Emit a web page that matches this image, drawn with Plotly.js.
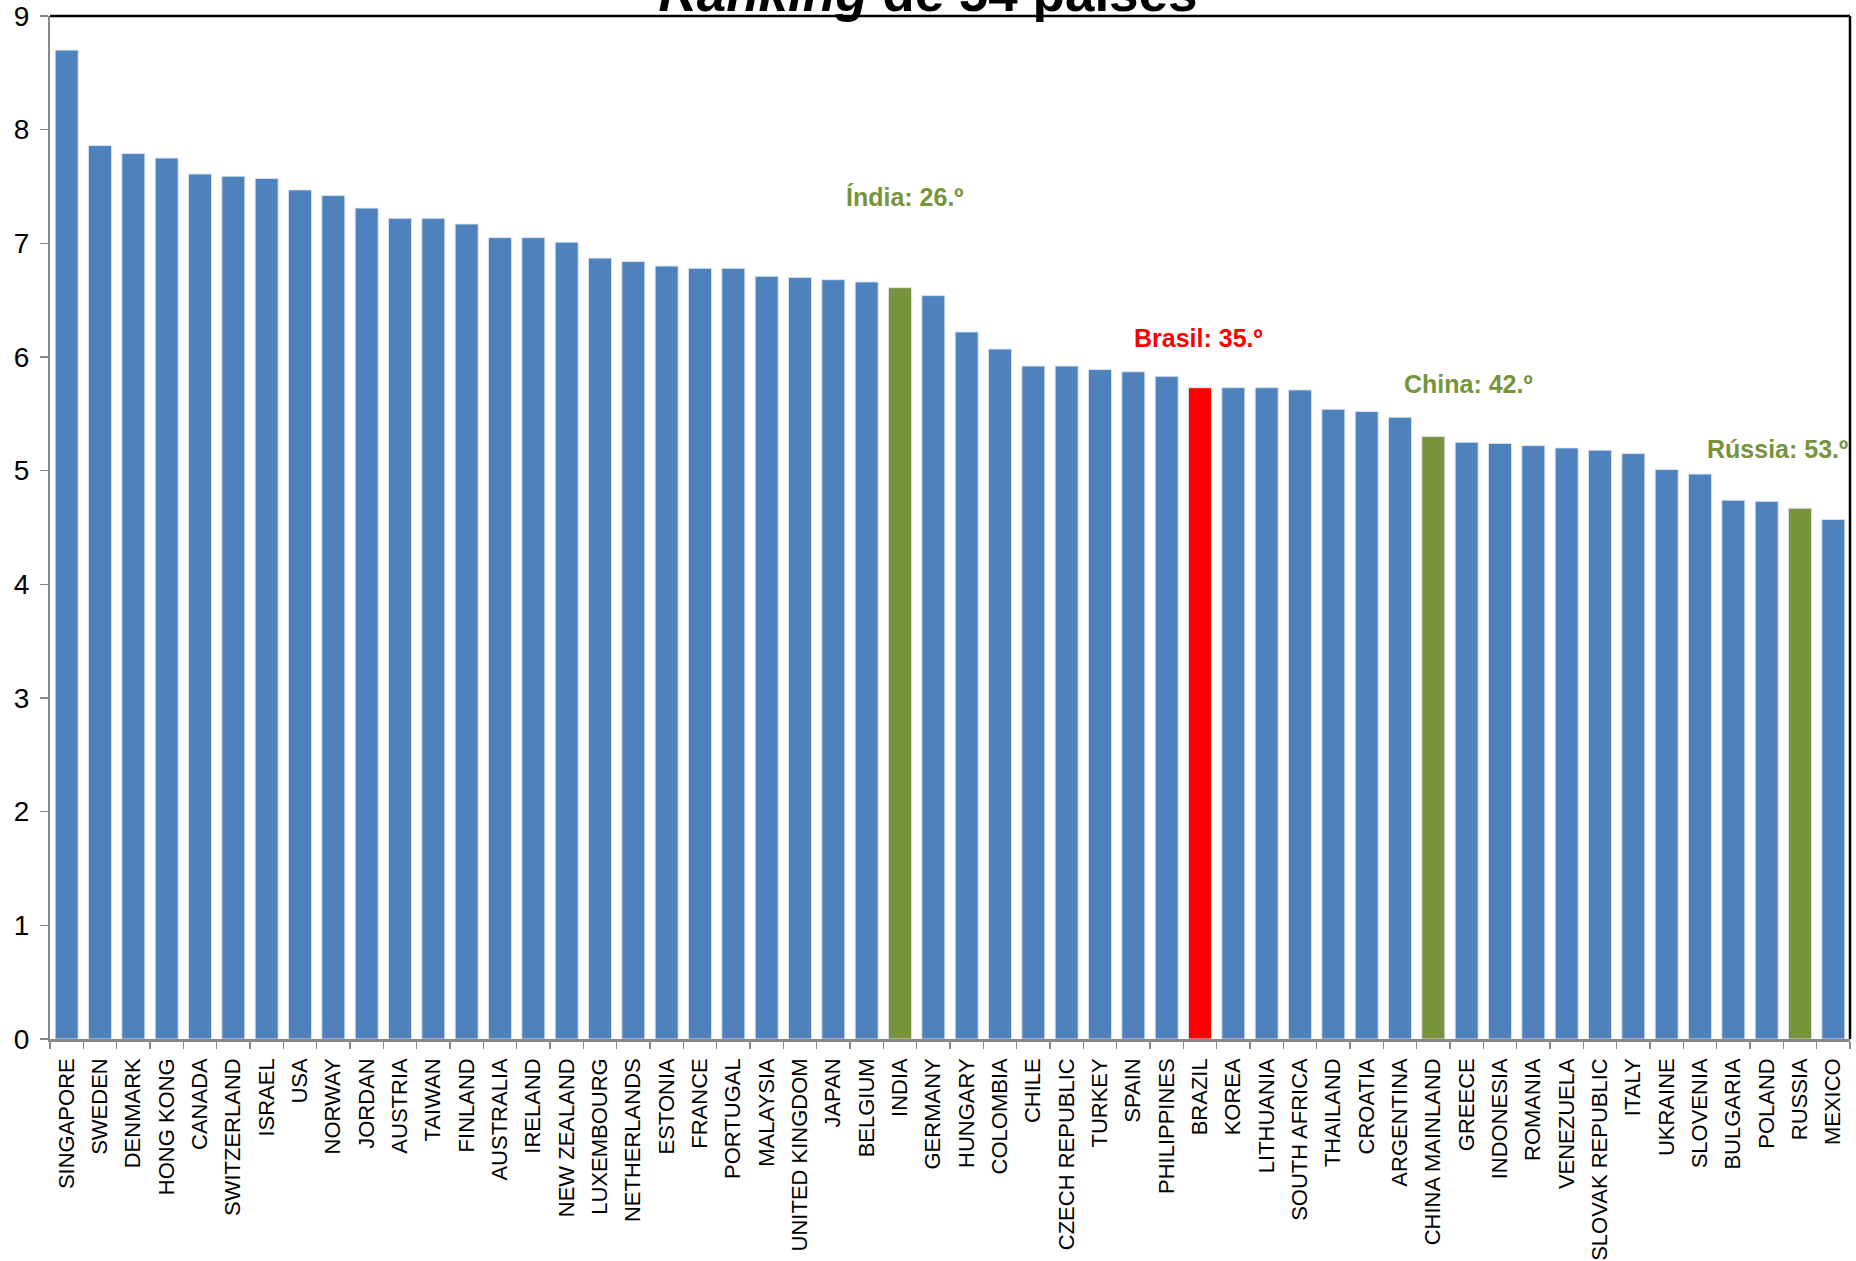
<!DOCTYPE html>
<html>
<head>
<meta charset="utf-8">
<script src="https://cdn.plot.ly/plotly-3.0.1.min.js"></script>
<style>
  html, body { margin: 0; padding: 0; background: #ffffff; }
  #chart { width: 1856px; height: 1261px; }
</style>
</head>
<body>
<div id="chart"></div>
<script>
// ---- data ----
const countries = [
  'SINGAPORE','SWEDEN','DENMARK','HONG KONG','CANADA','SWITZERLAND','ISRAEL','USA','NORWAY','JORDAN',
  'AUSTRIA','TAIWAN','FINLAND','AUSTRALIA','IRELAND','NEW ZEALAND','LUXEMBOURG','NETHERLANDS','ESTONIA','FRANCE',
  'PORTUGAL','MALAYSIA','UNITED KINGDOM','JAPAN','BELGIUM','INDIA','GERMANY','HUNGARY','COLOMBIA','CHILE',
  'CZECH REPUBLIC','TURKEY','SPAIN','PHILIPPINES','BRAZIL','KOREA','LITHUANIA','SOUTH AFRICA','THAILAND','CROATIA',
  'ARGENTINA','CHINA MAINLAND','GREECE','INDONESIA','ROMANIA','VENEZUELA','SLOVAK REPUBLIC','ITALY','UKRAINE','SLOVENIA',
  'BULGARIA','POLAND','RUSSIA','MEXICO'
];
const scores = [
  8.70, 7.86, 7.79, 7.75, 7.61, 7.59, 7.57, 7.47, 7.42, 7.31,
  7.22, 7.22, 7.17, 7.05, 7.05, 7.01, 6.87, 6.84, 6.80, 6.78,
  6.78, 6.71, 6.70, 6.68, 6.66, 6.61, 6.54, 6.22, 6.07, 5.92,
  5.92, 5.89, 5.87, 5.83, 5.73, 5.73, 5.73, 5.71, 5.54, 5.52,
  5.47, 5.30, 5.25, 5.24, 5.22, 5.20, 5.18, 5.15, 5.01, 4.97,
  4.74, 4.73, 4.67, 4.57
];
const highlightCountries = ['INDIA', 'BRAZIL', 'CHINA MAINLAND', 'RUSSIA'];
const highlightLabels = ['Índia: 26.º', 'Brasil: 35.º', 'China: 42.º', 'Rússia: 53.º'];
const highlightColors = ['#77933C', '#FF0000', '#77933C', '#77933C'];
const yTicks = [0, 1, 2, 3, 4, 5, 6, 7, 8, 9];
const titleText = '<b><i>Ranking</i> de 54 países</b>';

// ---- styling ----
const BLUE = '#4F81BD';
const AXIS_GRAY = '#898989';
const barColors = countries.map(c => {
  const i = highlightCountries.indexOf(c);
  return i >= 0 ? highlightColors[i] : BLUE;
});

// label placement (text positions only)
const labelY = [7.41, 6.17, 5.76, 5.19];
const labelShift = [5, -2, 35, -23];

const trace = {
  type: 'bar',
  x: countries,
  y: scores,
  marker: { color: barColors, line: { color: 'rgba(220,230,242,0.9)', width: 1 } },
  hoverinfo: 'x+y'
};

const annotations = highlightCountries.map((c, i) => ({
  x: c, y: labelY[i], xref: 'x', yref: 'y',
  text: '<b>' + highlightLabels[i] + '</b>',
  showarrow: false, xshift: labelShift[i],
  xanchor: 'center', yanchor: 'middle',
  font: { family: 'Liberation Sans, Arial, sans-serif', size: 25, color: highlightColors[i] }
}));

const layout = {
  width: 1856, height: 1261,
  paper_bgcolor: '#ffffff', plot_bgcolor: '#ffffff',
  margin: { l: 50, r: 6, t: 15.5, b: 222, pad: 0 },
  showlegend: false,
  bargap: 0.31,
  title: {
    text: titleText,
    font: { family: 'Liberation Sans, Arial, sans-serif', size: 53, color: '#000000' },
    x: 0.5, xref: 'container', xanchor: 'center',
    y: 0.9913, yref: 'container', yanchor: 'bottom'
  },
  xaxis: {
    type: 'category',
    range: [-0.5, countries.length - 0.5],
    tickangle: -90,
    tickson: 'boundaries',
    ticks: 'outside', ticklen: 7, tickwidth: 1.5, tickcolor: AXIS_GRAY,
    showline: true, linecolor: AXIS_GRAY, linewidth: 2.5,
    showgrid: false, zeroline: false,
    ticklabelstandoff: 8,
    tickfont: { family: 'Liberation Sans, Arial, sans-serif', size: 22, color: '#000000' },
    fixedrange: true
  },
  yaxis: {
    range: [0, 9],
    tickvals: yTicks,
    ticktext: yTicks.map(String),
    ticks: 'outside', ticklen: 8, tickwidth: 1.5, tickcolor: AXIS_GRAY,
    showline: true, linecolor: AXIS_GRAY, linewidth: 2,
    showgrid: false, zeroline: false,
    ticklabelstandoff: 5,
    tickfont: { family: 'Liberation Sans, Arial, sans-serif', size: 28, color: '#000000' },
    fixedrange: true
  },
  shapes: [
    { type: 'line', xref: 'paper', yref: 'paper', x0: 0, x1: 1, y0: 1, y1: 1, line: { color: '#000000', width: 2.5 }, layer: 'above' },
    { type: 'line', xref: 'paper', yref: 'paper', x0: 1, x1: 1, y0: 0, y1: 1, line: { color: '#000000', width: 2.5 }, layer: 'above' }
  ],
  annotations: annotations
};

Plotly.newPlot('chart', [trace], layout, { displayModeBar: false, staticPlot: true });
</script>
</body>
</html>
